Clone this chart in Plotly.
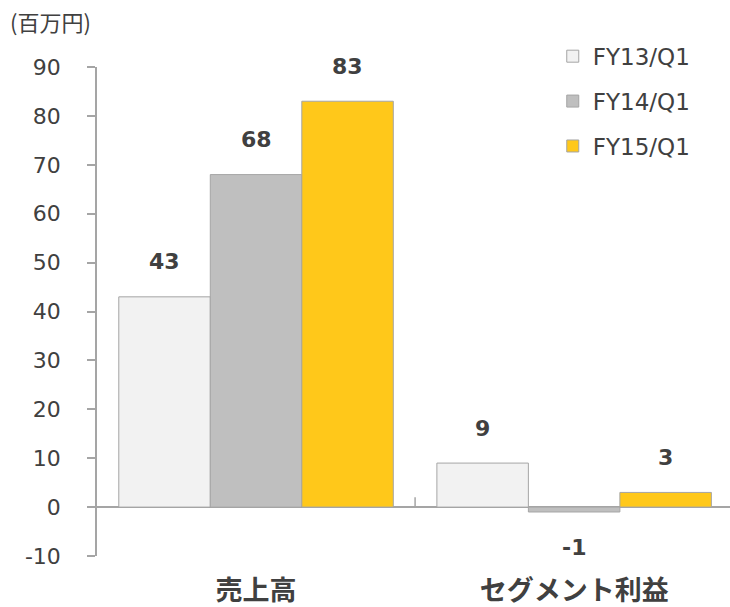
import plotly.graph_objects as go

# Data
categories = ["売上高", "セグメント利益"]
series_names = ["FY13/Q1", "FY14/Q1", "FY15/Q1"]
fy13 = [43, 9]
fy14 = [68, -1]
fy15 = [83, 3]
series_values = [fy13, fy14, fy15]
y_ticks = [-10, 0, 10, 20, 30, 40, 50, 60, 70, 80, 90]

fills = ["#F2F2F2", "#BFBFBF", "#FFC81A"]
edge = "#A5A5A5"
text_color = "#404040"
latin = "DejaVu Sans"
cjk = "Noto Sans CJK JP"

fig = go.Figure()
for name, vals, col in zip(series_names, series_values, fills):
    fig.add_trace(go.Bar(
        x=categories, y=vals, name=name, legendgroup=name,
        marker=dict(color=col, line=dict(color=edge, width=1)),
    ))

# value labels above positive bars, below negative ones
n = len(series_names)
bargap = 0.137
slot = (1 - bargap) / n
for i, vals in enumerate(series_values):
    for ci, v in enumerate(vals):
        xpos = ci - (1 - bargap) / 2 + slot * (i + 0.5)
        fig.add_annotation(
            x=xpos, y=v, xref="x", yref="y", text=f"<b>{v}</b>",
            showarrow=False, yshift=35 if v >= 0 else -36,
            font=dict(family=latin, size=22, color=text_color),
        )

# unit label
fig.add_annotation(
    x=0, y=1, xref="paper", yref="paper", xanchor="left", yanchor="top",
    xshift=-89, yshift=64, text="(百万円)", showarrow=False,
    font=dict(family=cjk, size=22, color=text_color),
)

# category boundary tick on the zero line
fig.add_shape(type="line", x0=0.5, x1=0.5, y0=0, y1=2, xref="x", yref="y",
              line=dict(color=edge, width=1.5))

fig.update_layout(
    width=730, height=607,
    margin=dict(l=97, r=0, t=67, b=51),
    paper_bgcolor="white", plot_bgcolor="white",
    barmode="group", bargap=bargap, bargroupgap=0,
    showlegend=True,
    legend=dict(x=0.72, y=1.066, xanchor="left", yanchor="top",
                font=dict(family=latin, size=23, color=text_color),
                tracegroupgap=12, bgcolor="rgba(0,0,0,0)"),
    xaxis=dict(range=[-0.5, 1.49], showline=False, showgrid=False, ticks="",
               automargin=False,
               tickfont=dict(family=cjk, size=27, color=text_color),
               ticklabelstandoff=16, tickprefix="<b>", ticksuffix="</b>"),
    yaxis=dict(range=[-10, 90], tickvals=y_ticks, automargin=False,
               ticktext=[str(t) for t in y_ticks], showgrid=False,
               showline=True, linecolor=edge, linewidth=1.5,
               ticks="outside", ticklen=8, tickcolor=edge, tickwidth=1.5,
               ticklabelstandoff=22,
               zeroline=True, zerolinecolor=edge, zerolinewidth=1.5,
               tickfont=dict(family=latin, size=22, color=text_color)),
)

fig.write_html("out.html")
